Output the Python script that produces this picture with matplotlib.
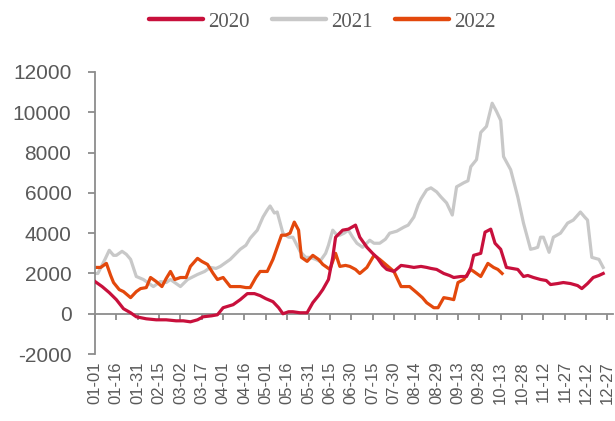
import numpy as np
import matplotlib
matplotlib.use("Agg")
import matplotlib.pyplot as plt

plt.rcParams['axes.unicode_minus'] = False

# day of year (0 = 01-01) and values
days_2020 = [0, 5, 10, 15, 20, 25, 29, 36, 43, 50, 57, 62, 67, 72, 76, 82, 86, 90, 97, 102,
             107, 112, 116, 120, 125, 129, 132, 136, 139, 144, 149, 153, 157, 160, 164, 167, 169, 174, 178, 183,
             186, 191, 195, 198, 202, 205, 210, 215, 220, 224, 229, 233, 236, 240, 245, 249, 252, 257, 261, 264,
             266, 271, 274, 278, 281, 285, 289, 293, 297, 301, 304, 308, 313, 317, 320, 325, 329, 334, 339, 342,
             346, 350, 354, 357]
vals_2020 = [1600, 1350, 1050, 700, 250, 50, -150, -250, -300, -300, -350, -350, -400, -300, -150, -100, -50, 300, 450, 700,
             1000, 1000, 900, 750, 600, 300, 0, 100, 100, 50, 50, 550, 900, 1200, 1700, 2800, 3800, 4150, 4200, 4400,
             3800, 3300, 3000, 2800, 2400, 2200, 2100, 2400, 2350, 2300, 2350, 2300, 2250, 2200, 2000, 1900, 1800, 1850, 1850, 2300,
             2900, 3000, 4050, 4200, 3500, 3200, 2300, 2250, 2200, 1850, 1900, 1800, 1700, 1650, 1450, 1500, 1550, 1500, 1400, 1250,
             1500, 1800, 1900, 2000]

days_2021 = [0, 2, 7, 10, 13, 15, 19, 22, 25, 29, 34, 38, 41, 46, 50, 53, 57, 60, 65, 72,
             77, 81, 85, 88, 95, 102, 106, 109, 114, 118, 121, 123, 126, 128, 132, 136, 139, 144, 148, 151,
             155, 158, 162, 164, 167, 170, 172, 175, 178, 181, 184, 188, 193, 196, 200, 204, 207, 212, 217, 220,
             224, 227, 229, 233, 236, 240, 243, 247, 251, 254, 259, 262, 264, 268, 271, 275, 279, 282, 285, 287,
             292, 297, 301, 306, 309, 311, 313, 315, 319, 322, 327, 332, 336, 341, 344, 346, 349, 354, 357]
vals_2021 = [2000, 2000, 2700, 3150, 2900, 2900, 3100, 2950, 2700, 1850, 1700, 1500, 1350, 1600, 1550, 1700, 1500, 1350, 1700, 1950,
             2100, 2300, 2250, 2350, 2700, 3200, 3400, 3750, 4150, 4800, 5150, 5350, 5000, 5050, 4000, 3800, 3800, 3100, 2800, 2800,
             2700, 2600, 3000, 3400, 4150, 3900, 3900, 4000, 4150, 3800, 3500, 3300, 3650, 3500, 3500, 3700, 4000, 4100, 4300, 4400,
             4800, 5400, 5700, 6150, 6250, 6050, 5800, 5500, 4900, 6300, 6500, 6600, 7300, 7650, 9000, 9300, 10450, 10050, 9600, 7800,
             7150, 5800, 4500, 3200, 3250, 3300, 3800, 3800, 3050, 3800, 4000, 4500, 4650, 5050, 4800, 4650, 2800, 2700, 2300]

days_2022 = [0, 4, 8, 11, 13, 17, 20, 25, 29, 32, 36, 39, 43, 47, 50, 53, 56, 60, 64, 67,
             72, 75, 79, 83, 86, 90, 95, 99, 102, 106, 109, 113, 116, 121, 125, 129, 131, 134, 137, 140,
             143, 145, 149, 153, 157, 160, 165, 169, 172, 176, 179, 183, 186, 191, 196, 200, 205, 210, 215, 221,
             226, 230, 233, 238, 241, 245, 249, 252, 255, 259, 264, 266, 271, 276, 280, 283, 286]
vals_2022 = [2300, 2300, 2500, 1900, 1550, 1200, 1100, 800, 1100, 1250, 1300, 1800, 1600, 1350, 1750, 2100, 1700, 1800, 1800, 2350,
             2750, 2600, 2450, 2000, 1700, 1800, 1350, 1350, 1350, 1300, 1300, 1800, 2100, 2100, 2700, 3500, 3900, 3900, 4000, 4550,
             4150, 2800, 2600, 2900, 2700, 2450, 2200, 3000, 2350, 2400, 2350, 2200, 2000, 2300, 2900, 2700, 2400, 2100, 1350, 1350,
             1050, 800, 550, 300, 300, 800, 750, 700, 1550, 1700, 2200, 2100, 1850, 2500, 2300, 2200, 2000]

tick_days = list(range(0, 361, 15))
tick_labels = ['01-01', '01-16', '01-31', '02-15', '03-02', '03-17', '04-01', '04-16', '05-01',
               '05-16', '05-31', '06-15', '06-30', '07-15', '07-30', '08-14', '08-29', '09-13',
               '09-28', '10-13', '10-28', '11-12', '11-27', '12-12', '12-27']

grey = '#595959'
axis_grey = '#8c8c8c'

fig = plt.figure(figsize=(6.15, 4.21), dpi=100)
ax = fig.add_axes([0.1545, 0.159, 0.8425, 0.670])

ax.plot(days_2020, vals_2020, color='#c8103c', lw=2.3, label='2020', zorder=3)
ax.plot(days_2021, vals_2021, color='#c8c8c8', lw=2.3, label='2021', zorder=1)
ax.plot(days_2022, vals_2022, color='#e3480c', lw=2.3, label='2022', zorder=2)

ax.set_xlim(0, 364)
ax.set_ylim(-2000, 12000)
ax.set_yticks(np.arange(-2000, 12001, 2000))

for s in ['top', 'right']:
    ax.spines[s].set_visible(False)
ax.spines['left'].set_color(axis_grey)
ax.spines['left'].set_linewidth(1.3)
ax.spines['bottom'].set_position(('data', 0))
ax.spines['bottom'].set_color(axis_grey)
ax.spines['bottom'].set_linewidth(1.3)

ax.tick_params(axis='y', direction='out', length=5, width=1.3, color=axis_grey,
               labelsize=15, labelcolor=grey, pad=12)
ax.set_xticks(tick_days)
ax.tick_params(axis='x', direction='out', length=4, width=1.3, color=axis_grey,
               labelbottom=False)
for lab in ax.get_yticklabels():
    lab.set_fontfamily('Liberation Sans')

# date labels sit below the plot area, not on the zero line
sec = ax.secondary_xaxis(0.0)
sec.set_xticks(tick_days)
sec.set_xticklabels(tick_labels, rotation=90, fontsize=12, color=grey,
                    fontfamily='Liberation Sans', va='top')
sec.tick_params(axis='x', length=0, pad=5)
sec.spines['bottom'].set_visible(False)

leg = fig.legend(loc='center', bbox_to_anchor=(0.524, 0.948), ncol=3, frameon=False,
                 handlelength=2.6, handletextpad=0.25, columnspacing=1.05,
                 prop={'family': 'Liberation Serif', 'size': 15})
for t in leg.get_texts():
    t.set_color(grey)
for line in leg.get_lines():
    line.set_linewidth(3.2)
    line.set_solid_capstyle('round')

fig.savefig('out.png', dpi=100)
